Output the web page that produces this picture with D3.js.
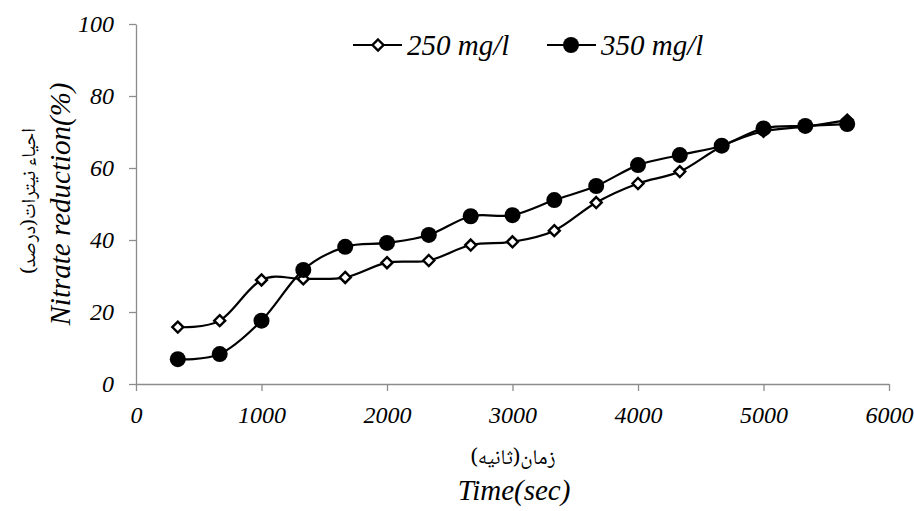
<!DOCTYPE html>
<html><head><meta charset="utf-8"><script src="https://cdn.jsdelivr.net/npm/d3@7"></script></head>
<body style="margin:0">
<svg id="c" width="914" height="511"></svg>
<script>
// ---- data ----
const times = [333, 667, 1000, 1333, 1667, 2000, 2333, 2667, 3000, 3333, 3667, 4000, 4333, 4667, 5000, 5333, 5667];
const s250 = [15.8, 17.6, 28.9, 29.2, 29.6, 33.7, 34.3, 38.6, 39.5, 42.6, 50.4, 55.7, 59.0, 66.0, 70.2, 71.5, 73.3];
const s350 = [6.9, 8.3, 17.6, 31.7, 38.1, 39.2, 41.4, 46.6, 46.9, 51.1, 55.0, 60.8, 63.6, 66.2, 71.0, 71.7, 72.2];
const seriesNames = ["250 mg/l", "350 mg/l"];
const xTicks = [0, 1000, 2000, 3000, 4000, 5000, 6000];
const yTicks = [0, 20, 40, 60, 80, 100];
const xTitle = "Time(sec)";
const xTitleFa = "زمان(ثانیه)";
const yTitle = "Nitrate reduction(%)";
const yTitleFa = "احیاء نیترات(درصد)";

const F = `"Liberation Serif"`;
const FA = `"Noto Naskh Arabic"`;
const svg = d3.select("#c");

const x = d3.scaleLinear().domain([0, 6000]).range([136, 889]);
const y = d3.scaleLinear().domain([0, 100]).range([384, 24]);

function st(sel, size) {
  return sel.style("font-family", F).style("font-size", size + "px").style("font-style", "italic");
}

// text first
st(svg.append("text").attr("x", 407).attr("y", 55).text(seriesNames[0]), 29);
st(svg.append("text").attr("x", 601).attr("y", 55).text(seriesNames[1]), 29);
st(svg.append("text").attr("x", 514).attr("y", 500).attr("text-anchor", "middle").text(xTitle), 29);
st(svg.append("text").attr("transform", "translate(70,204) rotate(-90)").attr("text-anchor", "middle").text(yTitle), 29);
svg.append("text").attr("x", 513).attr("y", 464).attr("text-anchor", "middle")
  .style("font-family", FA).style("font-size", "21px").text(xTitleFa);
svg.append("text").attr("transform", "translate(35,201) rotate(-90)").attr("text-anchor", "middle")
  .style("font-family", FA).style("font-size", "20px").text(yTitleFa);

// axes
const axisColor = "#8c8c8c";
const gx = svg.append("g").attr("transform", `translate(0,${y(0)})`)
  .call(d3.axisBottom(x).tickValues(xTicks).tickFormat(d3.format("d")).tickSize(7).tickPadding(15).tickSizeOuter(0));
const gy = svg.append("g").attr("transform", `translate(${x(0)},0)`)
  .call(d3.axisLeft(y).tickValues(yTicks).tickSize(7).tickPadding(15).tickSizeOuter(0));
[gx, gy].forEach(g => {
  g.attr("font-family", null).attr("font-size", null);
  g.select(".domain").attr("stroke", axisColor).attr("stroke-width", 1.3);
  g.selectAll(".tick line").attr("stroke", axisColor).attr("stroke-width", 1.3);
  st(g.selectAll(".tick text"), 24).attr("fill", "#000");
});

// lines
const line = d3.line().x((d, i) => x(times[i])).y(d => y(d)).curve(d3.curveCardinal.tension(0));
[s250, s350].forEach(s => {
  svg.append("path").datum(s).attr("d", line).attr("fill", "none")
    .attr("stroke", "#000").attr("stroke-width", 2.2);
});

const diamond = (cx, cy, r) => `M${cx},${cy - r}L${cx + r},${cy}L${cx},${cy + r}L${cx - r},${cy}Z`;

svg.append("g").selectAll("path").data(s250).join("path")
  .attr("d", (d, i) => diamond(x(times[i]), y(d), 5.5))
  .attr("fill", "#fff").attr("stroke", "#000").attr("stroke-width", 2.4);
svg.append("g").selectAll("circle").data(s350).join("circle")
  .attr("cx", (d, i) => x(times[i])).attr("cy", d => y(d)).attr("r", 8).attr("fill", "#000");

// legend marks
svg.append("line").attr("x1", 353).attr("x2", 402).attr("y1", 45).attr("y2", 45).attr("stroke", "#000").attr("stroke-width", 2.2);
svg.append("path").attr("d", diamond(378, 45, 5.5)).attr("fill", "#fff").attr("stroke", "#000").attr("stroke-width", 2.4);
svg.append("line").attr("x1", 547).attr("x2", 596).attr("y1", 45).attr("y2", 45).attr("stroke", "#000").attr("stroke-width", 2.2);
svg.append("circle").attr("cx", 571).attr("cy", 45).attr("r", 8).attr("fill", "#000");
</script></body></html>
